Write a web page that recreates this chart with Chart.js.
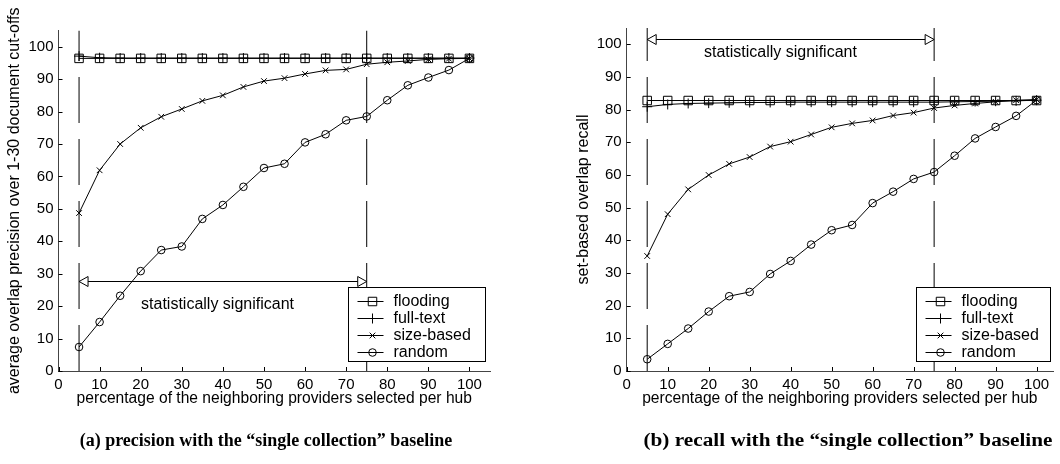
<!DOCTYPE html>
<html>
<head>
<meta charset="utf-8">
<script src="https://cdn.jsdelivr.net/npm/chart.js@4.4.1/dist/chart.umd.min.js"></script>
<style>
  body { margin: 0; background: #fff; width: 1060px; height: 464px; position: relative; overflow: hidden; }
  .panel { position: absolute; top: 0; width: 530px; height: 464px; }
  .caption { position: absolute; top: 430px; font: bold 18px "Liberation Serif", "Times New Roman", serif; white-space: nowrap; transform: translateX(-50%); color: #000; }
  .caption.wide { transform: translateX(-50%) scaleX(1.18); }
</style>
</head>
<body>
<div class="panel" style="left:0"><canvas id="precisionChart"></canvas></div>
<div class="panel" style="left:530px"><canvas id="recallChart"></canvas></div>
<div class="caption" style="left:266px">(a) precision with the “single collection” baseline</div>
<div class="caption wide" style="left:848px">(b) recall with the “single collection” baseline</div>
<script>
// percentage of neighbouring providers selected per hub
const hubPercent = [5, 10, 15, 20, 25, 30, 35, 40, 45, 50, 55, 60, 65, 70, 75, 80, 85, 90, 95, 100];

const seriesNames = ['flooding', 'full-text', 'size-based', 'random'];
const markerStyles = ['rect', 'cross', 'crossRot', 'circle'];

// (a) precision
const precisionFlooding = [96.4, 96.4, 96.4, 96.4, 96.4, 96.4, 96.4, 96.4, 96.4, 96.4, 96.4, 96.4, 96.4, 96.4, 96.4, 96.4, 96.4, 96.4, 96.4, 96.4];
const precisionFullText = [97.1, 96.6, 96.5, 96.5, 96.5, 96.5, 96.5, 96.5, 96.5, 96.5, 96.5, 96.5, 96.5, 96.5, 96.5, 96.5, 96.5, 96.5, 96.5, 96.5];
const precisionSizeBased = [48.7, 61.9, 70.0, 75.0, 78.4, 80.8, 83.3, 85.0, 87.6, 89.4, 90.3, 91.6, 92.7, 93.0, 94.6, 95.2, 95.6, 96.1, 96.3, 96.4];
const precisionRandom = [7.4, 15.1, 23.2, 30.8, 37.3, 38.4, 46.9, 51.2, 56.8, 62.6, 63.9, 70.5, 73.0, 77.3, 78.5, 83.5, 88.1, 90.5, 92.8, 96.4];

// (b) recall
const recallFlooding = [82.8, 82.8, 82.8, 82.8, 82.8, 82.8, 82.8, 82.8, 82.8, 82.8, 82.8, 82.8, 82.8, 82.8, 82.8, 82.8, 82.8, 82.8, 82.8, 82.8];
const recallFullText = [80.9, 81.6, 81.9, 82.0, 82.1, 82.2, 82.2, 82.3, 82.3, 82.3, 82.3, 82.3, 82.3, 82.3, 82.3, 82.4, 82.5, 82.6, 82.7, 82.9];
const recallSizeBased = [35.2, 48.0, 55.6, 60.0, 63.4, 65.5, 68.7, 70.2, 72.4, 74.6, 75.8, 76.7, 78.2, 79.1, 80.5, 81.3, 81.9, 82.4, 82.9, 83.1];
const recallRandom = [3.6, 8.3, 13.0, 18.2, 22.9, 24.2, 29.7, 33.7, 38.7, 43.1, 44.7, 51.4, 54.9, 58.8, 60.9, 65.9, 71.2, 74.7, 78.1, 82.9];

// statistically significant range
const sigBounds = [5, 75];
const axisTicks = [0, 10, 20, 30, 40, 50, 60, 70, 80, 90, 100];

const fontFamily = '"Liberation Sans", Arial, sans-serif';
Chart.defaults.font.family = fontFamily;
Chart.defaults.color = '#000';

const markerSizes = [6, 5, 4, 3.8];

function makeSeries(values, idx) {
  return {
    label: seriesNames[idx],
    data: hubPercent.map((p, i) => ({ x: p, y: values[i] })),
    borderColor: '#000',
    borderWidth: 1,
    pointStyle: markerStyles[idx],
    pointRadius: markerSizes[idx],
    pointBorderColor: '#000',
    pointBackgroundColor: 'rgba(0,0,0,0)',
    pointBorderWidth: 1,
    tension: 0
  };
}

function sigLine(xv, yMax) {
  return {
    label: '',
    data: [{ x: xv, y: 0 }, { x: xv, y: yMax }],
    borderColor: '#000',
    borderWidth: 1,
    borderDash: [46, 16],
    pointRadius: 0
  };
}

// inward ticks, arrow, label and the boxed legend
const figureDecor = {
  id: 'figureDecor',
  afterDatasetsDraw(chart, args, opts) {
    const { ctx, chartArea } = chart;
    const x = chart.scales.x, y = chart.scales.y;
    ctx.save();
    ctx.strokeStyle = '#000';
    ctx.lineWidth = 1;
    ctx.setLineDash([]);

    ctx.beginPath();
    x.ticks.forEach(t => {
      const px = Math.round(x.getPixelForValue(t.value)) + 0.5;
      ctx.moveTo(px, chartArea.bottom);
      ctx.lineTo(px, chartArea.bottom - 4);
    });
    y.ticks.forEach(t => {
      const py = Math.round(y.getPixelForValue(t.value)) + 0.5;
      ctx.moveTo(chartArea.left, py);
      ctx.lineTo(chartArea.left + 4, py);
    });
    ctx.stroke();

    // double arrow
    const x0 = x.getPixelForValue(sigBounds[0]);
    const x1 = x.getPixelForValue(sigBounds[1]);
    const ay = Math.round(y.getPixelForValue(opts.arrowY)) + 0.5;
    ctx.beginPath();
    ctx.moveTo(x0, ay);
    ctx.lineTo(x1, ay);
    ctx.stroke();
    ctx.fillStyle = '#fff';
    ctx.beginPath();
    ctx.moveTo(x0, ay); ctx.lineTo(x0 + 9, ay - 5); ctx.lineTo(x0 + 9, ay + 5); ctx.closePath();
    ctx.fill(); ctx.stroke();
    ctx.beginPath();
    ctx.moveTo(x1, ay); ctx.lineTo(x1 - 9, ay - 5); ctx.lineTo(x1 - 9, ay + 5); ctx.closePath();
    ctx.fill(); ctx.stroke();

    ctx.fillStyle = '#000';
    ctx.font = '16px ' + fontFamily;
    ctx.textAlign = 'center';
    ctx.textBaseline = 'middle';
    ctx.fillText('statistically significant', x.getPixelForValue(opts.labelX), y.getPixelForValue(opts.labelY));

    // legend
    const lg = opts.legend;
    const right = chartArea.right - lg.right;
    const bottom = chartArea.bottom - lg.bottom;
    const left = Math.round(right - lg.width) + 0.5;
    const top = Math.round(bottom - lg.height) + 0.5;
    ctx.fillStyle = '#fff';
    ctx.fillRect(left, top, lg.width, lg.height);
    ctx.strokeRect(left, top, Math.round(lg.width), Math.round(lg.height));
    ctx.textAlign = 'left';
    seriesNames.forEach((name, i) => {
      const ry = Math.round(top + 13.5 + i * 17) + 0.5;
      ctx.beginPath();
      ctx.moveTo(left + 9, ry);
      ctx.lineTo(left + 35, ry);
      ctx.stroke();
      ctx.fillStyle = 'rgba(0,0,0,0)';
      Chart.helpers.drawPoint(ctx, {
        pointStyle: markerStyles[i], radius: markerSizes[i], rotation: 0, borderWidth: 1
      }, left + 24, ry);
      ctx.fillStyle = '#000';
      ctx.fillText(name, left + 45, ry + 0.5);
    });
    ctx.restore();
  }
};

function makeChart(canvasId, series, yTitle, cfg) {
  const datasets = series.map((vals, i) => makeSeries(vals, i));
  datasets.push(sigLine(sigBounds[0], 105), sigLine(sigBounds[1], 105));

  return new Chart(document.getElementById(canvasId), {
    type: 'line',
    data: { datasets },
    plugins: [figureDecor],
    options: {
      responsive: true,
      maintainAspectRatio: false,
      animation: false,
      layout: { padding: cfg.padding },
      plugins: {
        legend: { display: false },
        tooltip: { enabled: false },
        figureDecor: cfg.decor
      },
      scales: {
        x: {
          type: 'linear',
          min: 0,
          max: cfg.xMax,
          afterBuildTicks: s => { s.ticks = axisTicks.map(v => ({ value: v })); },
          ticks: { font: { size: 15 }, padding: 5, color: '#000', maxRotation: 0 },
          grid: { display: false, drawTicks: false },
          border: { display: true, color: '#444', width: 1 },
          title: { display: true, text: 'percentage of the neighboring providers selected per hub', font: { size: 15.6 }, padding: 0, color: '#000' },
          afterFit: s => { s.height = cfg.xHeight; s.paddingLeft = 0; s.paddingRight = 0; }
        },
        y: {
          type: 'linear',
          min: 0,
          max: 105,
          afterBuildTicks: s => { s.ticks = axisTicks.map(v => ({ value: v })); },
          ticks: { font: { size: 15 }, padding: 5, color: '#000' },
          grid: { display: false, drawTicks: false },
          border: { display: true, color: '#444', width: 1 },
          title: { display: true, text: yTitle, font: { size: 16 }, padding: 0, color: '#000' },
          afterFit: s => { s.width = cfg.yWidth; s.paddingTop = 0; s.paddingBottom = 0; }
        }
      }
    }
  });
}

makeChart('precisionChart',
  [precisionFlooding, precisionFullText, precisionSizeBased, precisionRandom],
  'average overlap precision over 1-30 document cut-offs',
  {
    padding: { left: 5, right: 40, top: 30.5, bottom: 56.4 },
    xHeight: 36.6, yWidth: 53.5, xMax: 105,
    decor: { arrowY: 27.6, labelX: 38.7, labelY: 20.5, legend: { right: 5, bottom: 10, width: 137, height: 74 } }
  });

makeChart('recallChart',
  [recallFlooding, recallFullText, recallSizeBased, recallRandom],
  'set-based overlap recall',
  {
    padding: { left: 44.4, right: 0, top: 28, bottom: 56.4 },
    xHeight: 36.6, yWidth: 52.3, xMax: 104,
    decor: { arrowY: 101.7, labelX: 37.5, labelY: 97.5, legend: { right: 3.3, bottom: 10, width: 134, height: 74 } }
  });
</script>
</body>
</html>
